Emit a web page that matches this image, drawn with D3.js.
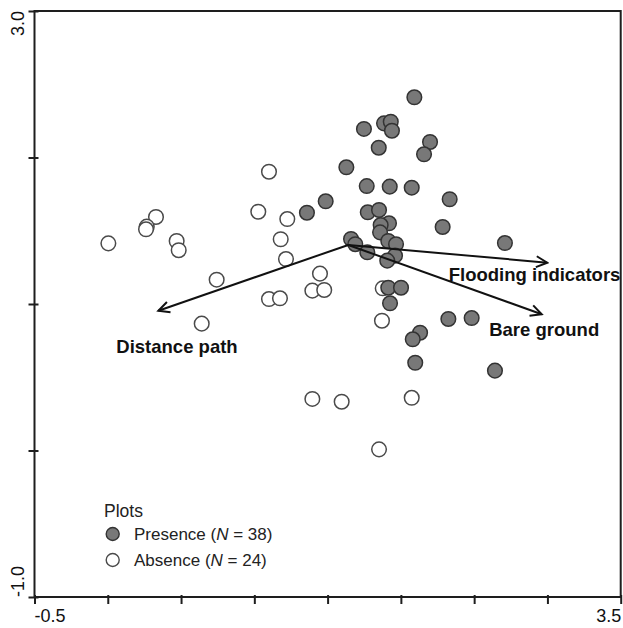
<!DOCTYPE html>
<html>
<head>
<meta charset="utf-8">
<script src="https://cdn.jsdelivr.net/npm/d3@7"></script>
<style>
  html, body { margin: 0; padding: 0; background: #fff; }
  svg { display: block; font-family: "Liberation Sans", Arial, Helvetica, sans-serif; }
</style>
</head>
<body>
<svg id="chart" width="623" height="628"></svg>
<script>
// ---- Data ----
const presenceX = [2.092,1.748,1.885,1.931,1.939,2.199,2.158,1.849,1.628,1.767,1.924,2.074,2.333,1.487,1.359,1.774,1.851,1.919,1.862,1.858,2.285,2.710,1.660,1.689,1.914,1.967,1.771,1.960,1.907,1.914,2.001,1.926,2.324,2.483,2.131,2.081,2.098,2.642];
const presenceY = [2.411,2.195,2.233,2.244,2.183,2.106,2.022,2.067,1.933,1.805,1.801,1.794,1.715,1.701,1.623,1.626,1.642,1.551,1.539,1.489,1.526,1.416,1.444,1.408,1.430,1.408,1.353,1.330,1.296,1.111,1.111,1.005,0.898,0.904,0.804,0.759,0.599,0.545];
const absenceX = [1.100,1.027,1.225,0.329,0.266,0.261,0.004,0.470,0.484,1.180,1.216,0.743,1.448,1.100,1.175,1.396,1.477,0.641,1.876,1.871,1.396,1.596,2.074,1.851];
const absenceY = [1.903,1.630,1.580,1.594,1.528,1.510,1.414,1.430,1.367,1.442,1.307,1.166,1.207,1.034,1.039,1.091,1.096,0.866,1.107,0.886,0.352,0.333,0.360,0.008];

const vectorNames = ["Distance path", "Flooding indicators", "Bare ground"];
const vectorOrigin = [1.641, 1.403];
const vectorEndX = [0.345, 2.999, 2.961];
const vectorEndY = [0.954, 1.282, 0.930];

const xTickValues = [-0.5, 0, 0.5, 1, 1.5, 2, 2.5, 3, 3.5];
const yTickValues = [-1, 0, 1, 2, 3];
const xTickLabels = ["-0.5", "", "", "", "", "", "", "", "3.5"];
const yTickLabels = ["-1.0", "", "", "", "3.0"];

const legendTitle = "Plots";
const legendLabels = [["Presence (", "N", " = 38)"], ["Absence (", "N", " = 24)"]];

// ---- Layout / style ----
const L = 34.5, R = 620.7, T = 11, B = 597;
const fillGray = "#787878", strokeDark = "#333", strokeOpen = "#4a4a4a";
const labelOffsets = [[-42, 42.5], [-98.5, 18.5], [-52.5, 21.5]];

const svg = d3.select("#chart");
const x = d3.scaleLinear().domain([-0.5, 3.5]).range([L, R]);
const y = d3.scaleLinear().domain([-1, 3]).range([B, T]);

// arrow marker
const defs = svg.append("defs");
defs.append("marker")
  .attr("id", "arr")
  .attr("viewBox", "-12 -7 14 14")
  .attr("refX", 0).attr("refY", 0)
  .attr("markerWidth", 14).attr("markerHeight", 14)
  .attr("markerUnits", "userSpaceOnUse")
  .attr("orient", "auto")
  .append("path")
  .attr("d", "M-11,-5.5 L0,0 L-11,5.5")
  .attr("fill", "none").attr("stroke", "#111").attr("stroke-width", 2);

// frame
svg.append("rect")
  .attr("x", L).attr("y", T).attr("width", R - L).attr("height", B - T)
  .attr("fill", "none").attr("stroke", "#1e1e1e").attr("stroke-width", 2);

// axes
const xAxis = d3.axisBottom(x).tickValues(xTickValues).tickSize(7).tickFormat("");
const gx = svg.append("g").attr("transform", `translate(0,${B})`).call(xAxis);
gx.select(".domain").remove();
gx.selectAll(".tick line").attr("stroke", "#1e1e1e").attr("stroke-width", 2).attr("y1", -2);

const yAxis = d3.axisLeft(y).tickValues(yTickValues).tickSize(6).tickFormat("");
const gy = svg.append("g").attr("transform", `translate(${L},0)`).call(yAxis);
gy.select(".domain").remove();
gy.selectAll(".tick line").attr("stroke", "#1e1e1e").attr("stroke-width", 2).attr("x1", 4);

// tick labels (only endpoints)
xTickValues.forEach((v, i) => {
  if (!xTickLabels[i]) return;
  svg.append("text")
    .attr("x", i === 0 ? x(v) : x(v) + 0.5)
    .attr("y", 622)
    .attr("text-anchor", i === 0 ? "start" : "end")
    .attr("font-size", 18).attr("fill", "#111")
    .text(xTickLabels[i]);
});
yTickValues.forEach((v, i) => {
  if (!yTickLabels[i]) return;
  svg.append("text")
    .attr("transform", `translate(24,${y(v)}) rotate(-90)`)
    .attr("text-anchor", i === 0 ? "start" : "end")
    .attr("font-size", 18).attr("fill", "#111")
    .text(yTickLabels[i]);
});

// points: absence (open) first, then presence
const absence = absenceX.map((v, i) => [v, absenceY[i]]);
const presence = presenceX.map((v, i) => [v, presenceY[i]]);

svg.append("g").selectAll("circle").data(absence).join("circle")
  .attr("cx", d => x(d[0])).attr("cy", d => y(d[1])).attr("r", 7.3)
  .attr("fill", "#fff").attr("stroke", strokeOpen).attr("stroke-width", 1.5);

svg.append("g").selectAll("circle").data(presence).join("circle")
  .attr("cx", d => x(d[0])).attr("cy", d => y(d[1])).attr("r", 7.3)
  .attr("fill", fillGray).attr("stroke", strokeDark).attr("stroke-width", 1.5);

// vectors
vectorNames.forEach((name, i) => {
  svg.append("line")
    .attr("x1", x(vectorOrigin[0])).attr("y1", y(vectorOrigin[1]))
    .attr("x2", x(vectorEndX[i])).attr("y2", y(vectorEndY[i]))
    .attr("stroke", "#111").attr("stroke-width", 2)
    .attr("marker-end", "url(#arr)");
  svg.append("text")
    .attr("x", x(vectorEndX[i]) + labelOffsets[i][0])
    .attr("y", y(vectorEndY[i]) + labelOffsets[i][1])
    .attr("font-size", 18.5).attr("font-weight", "bold").attr("fill", "#111")
    .text(name);
});

// legend
svg.append("text").attr("x", 104).attr("y", 517)
  .attr("font-size", 17.5).attr("fill", "#222").text(legendTitle);
legendLabels.forEach((parts, i) => {
  const cy = 534 + i * 26;
  svg.append("circle").attr("cx", 112.7).attr("cy", cy).attr("r", 6.5)
    .attr("fill", i === 0 ? fillGray : "#fff")
    .attr("stroke", i === 0 ? strokeDark : strokeOpen).attr("stroke-width", 1.4);
  const t = svg.append("text").attr("x", 134).attr("y", cy + 6)
    .attr("font-size", 17).attr("fill", "#222");
  t.append("tspan").text(parts[0]);
  t.append("tspan").attr("font-style", "italic").text(parts[1]);
  t.append("tspan").text(parts[2]);
});
</script>
</body>
</html>
